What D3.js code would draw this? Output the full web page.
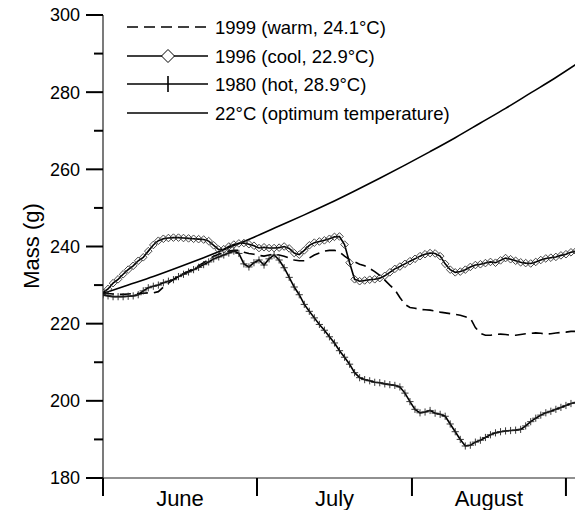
<!DOCTYPE html>
<html>
<head>
<meta charset="utf-8">
<script src="https://cdn.jsdelivr.net/npm/d3@7"></script>
<style>
  body { margin: 0; background: #fff; }
  svg { display: block; font-family: "Liberation Sans", Arial, sans-serif; }
</style>
</head>
<body>
<svg id="chart" width="575" height="510"></svg>
<script>
// values, one per day starting 1 June
const cool1996 = [
  228, 229, 230.5, 231.5, 232.8, 234, 235, 236.3, 237.2, 238.8,
  240.4, 241.5, 242, 242.2, 242.3, 242.3, 242.2, 242.1, 242, 241.9,
  241.8, 241.4, 240.3, 239.2, 239.3, 240, 240.5, 240.8, 240.9, 240.6,
  240.2, 239.6, 239.8, 239.6, 239.6, 239.7, 240, 239.5, 238.3, 237.9,
  239, 240.3, 241, 241.3, 241.6, 242, 242.5, 242.6, 240.5, 235.8,
  231.5, 231, 231.2, 231.4, 231.5, 231.8, 232.4, 233.3, 234.2, 234.8,
  235.5, 236.2, 236.8, 237.5, 238, 238.3, 238.2, 237.5, 235.5, 234,
  233.3, 233.5, 234, 234.7, 235.2, 235.4, 235.7, 236, 235.8, 236.4,
  237, 236.7, 236.3, 235.9, 235.7, 235.6, 236, 236.5, 236.9, 237.1,
  237.3, 237.7, 238, 238.5, 238.8
];
const hot1980 = [
  227.5, 227.2, 227, 227, 227, 227.1, 227.2, 227.5, 228.5, 229.3,
  229.7, 230, 230.6, 231, 231.4, 232.2, 232.8, 233.4, 234, 234.6,
  235.3, 236, 236.8, 237.3, 237.8, 238.3, 238.8, 238.2, 235.5, 234.7,
  235.8, 236.5, 235.2, 236.8, 237.8, 236.5, 234.5, 232, 229.5, 227.5,
  225, 223.2, 221.5, 219.8, 218.3, 216.6, 215, 213, 211.3, 209.5,
  207.3, 206, 205.5, 205.2, 204.8, 204.7, 204.4, 204.2, 204, 203.6,
  202, 199.8, 197.8, 196.9, 197.1, 197.5, 196.8, 196.5, 196, 194,
  192, 190, 188.3, 188.5, 189.3, 189.8, 190.5, 191.2, 191.7, 192,
  192.2, 192.3, 192.4, 192.6, 193.5, 194.6, 195.5, 196.3, 196.9, 197.3,
  197.8, 198.3, 198.8, 199.3, 199.6
];
const warm1999 = [
  228, 227.8, 227.7, 227.6, 227.6, 227.7, 227.8, 227.8, 227.9, 228,
  228, 228.3, 229.5, 230.5, 231.5, 232.3, 233, 233.6, 234.3, 235,
  235.8, 236.6, 237.5, 238, 238.5, 238.8, 239, 239, 238.5, 238.2,
  238, 237.7, 237.5, 237.8, 238, 237.8, 237.5, 237, 236.5, 236.3,
  236.3, 237, 237.8, 238.3, 238.8, 239, 239, 238.6, 237.5, 236.6,
  236, 235.4, 235, 234.3, 233.5, 232.5, 231.3, 230, 228.8, 226.8,
  225, 224.2, 224, 223.7, 223.6, 223.5, 223.3, 223, 222.8, 222.6,
  222.4, 222.2, 221.8, 221.4, 219, 217.5, 217, 217, 217.2, 217.3,
  217.2, 217, 217, 217.2, 217.4, 217.5, 217.6, 217.5, 217.3, 217.4,
  217.6, 217.7, 217.8, 218, 218
];
// 22°C optimum curve
const optDays = [0, 5, 10, 15, 20, 25, 30, 35, 40, 45, 50, 55, 60, 65, 70, 75, 80, 85, 90, 94];
const optMass = [227.8, 230, 232.2, 234.6, 237.1, 239.7, 242.4, 245.3, 248.2, 251.2,
                 254.4, 257.7, 261.1, 264.6, 268.2, 272, 275.8, 279.8, 283.8, 287.2];

const months = ['June', 'July', 'August'];
const monthEdges = [0, 30.6, 61.4, 92];
const yTicks = [180, 200, 220, 240, 260, 280, 300];
const yMinor = [190, 210, 230, 250, 270, 290];

const legendLabels = [
  '1999 (warm, 24.1°C)',
  '1996 (cool, 22.9°C)',
  '1980 (hot, 28.9°C)',
  '22°C (optimum temperature)'
];

const svg = d3.select('#chart');
const m = { left: 103, right: 575, top: 15, bottom: 478 };

const x = d3.scaleLinear().domain([0, 93.8]).range([m.left, m.right]);
const y = d3.scaleLinear().domain([180, 300]).range([m.bottom, m.top]);

svg.append('defs').append('clipPath').attr('id', 'clip')
  .append('rect').attr('x', m.left).attr('y', m.top - 5)
  .attr('width', m.right - m.left).attr('height', m.bottom - m.top + 5);

// y axis
const yAxis = svg.append('g');
yAxis.append('line')
  .attr('x1', m.left).attr('x2', m.left)
  .attr('y1', m.top).attr('y2', 496)
  .attr('stroke', '#222').attr('stroke-width', 1.2);
yAxis.selectAll('.major').data(yTicks).join('line')
  .attr('x1', 86).attr('x2', m.left)
  .attr('y1', d => y(d)).attr('y2', d => y(d))
  .attr('stroke', '#000').attr('stroke-width', 2);
yAxis.selectAll('.minor').data(yMinor).join('line')
  .attr('x1', 94).attr('x2', m.left)
  .attr('y1', d => y(d)).attr('y2', d => y(d))
  .attr('stroke', '#000').attr('stroke-width', 2);
yAxis.selectAll('text').data(yTicks).join('text')
  .attr('x', 80).attr('y', d => y(d))
  .attr('dy', '0.36em')
  .attr('text-anchor', 'end')
  .attr('font-size', 18)
  .text(d => d);

svg.append('text')
  .attr('transform', `translate(39, 246) rotate(-90)`)
  .attr('text-anchor', 'middle')
  .attr('font-size', 22)
  .text('Mass (g)');

// x axis with month ticks
const xAxis = svg.append('g');
xAxis.append('line')
  .attr('x1', m.left).attr('x2', m.right)
  .attr('y1', m.bottom).attr('y2', m.bottom)
  .attr('stroke', '#222').attr('stroke-width', 1.2);
xAxis.selectAll('.tick').data(monthEdges).join('line')
  .attr('x1', d => x(d)).attr('x2', d => x(d))
  .attr('y1', m.bottom).attr('y2', 496)
  .attr('stroke', '#000').attr('stroke-width', 2);
xAxis.selectAll('text').data(months).join('text')
  .attr('x', (d, i) => (x(monthEdges[i]) + x(monthEdges[i + 1])) / 2)
  .attr('y', 506)
  .attr('text-anchor', 'middle')
  .attr('font-size', 22)
  .text(d => d);

// lines
const plot = svg.append('g').attr('clip-path', 'url(#clip)');
const line = d3.line().x((d, i) => x(i)).y(d => y(d));

const diamond = r => `M0,${-r}L${r},0L0,${r}L${-r},0Z`;
const cross = r => `M${-r},0H${r}M0,${-r}V${r}`;

plot.append('path').datum(optMass)
  .attr('fill', 'none').attr('stroke', '#000').attr('stroke-width', 1.6)
  .attr('d', d3.line().x((d, i) => x(optDays[i])).y(d => y(d)).curve(d3.curveMonotoneX));

plot.append('path').datum(warm1999)
  .attr('fill', 'none').attr('stroke', '#000').attr('stroke-width', 1.6)
  .attr('stroke-dasharray', '11,6')
  .attr('d', line);

plot.append('path').datum(cool1996)
  .attr('fill', 'none').attr('stroke', '#000').attr('stroke-width', 1.6)
  .attr('d', line);
plot.selectAll('.dia').data(cool1996).join('path')
  .attr('transform', (d, i) => `translate(${x(i)},${y(d)})`)
  .attr('d', diamond(3.8))
  .attr('fill', 'none').attr('stroke', '#333').attr('stroke-width', 0.9);

plot.append('path').datum(hot1980)
  .attr('fill', 'none').attr('stroke', '#000').attr('stroke-width', 1.6)
  .attr('d', line);
plot.selectAll('.crs').data(hot1980).join('path')
  .attr('transform', (d, i) => `translate(${x(i)},${y(d)})`)
  .attr('d', cross(3.6))
  .attr('fill', 'none').attr('stroke', '#222').attr('stroke-width', 0.9);

// legend
const legendY = [27, 56, 84, 113];
const lg = svg.append('g');
legendLabels.forEach((label, i) => {
  const row = lg.append('g').attr('transform', `translate(0, ${legendY[i]})`);
  row.append('line')
    .attr('x1', 127).attr('x2', 208)
    .attr('stroke', '#000').attr('stroke-width', 1.6)
    .attr('stroke-dasharray', i === 0 ? '11,6' : null);
  if (i === 1) {
    row.append('path').attr('transform', 'translate(168,0)')
      .attr('d', diamond(6.5))
      .attr('fill', '#fff').attr('stroke', '#000').attr('stroke-width', 1);
  }
  if (i === 2) {
    row.append('path').attr('transform', 'translate(168,0)')
      .attr('d', 'M0,-8V8')
      .attr('stroke', '#000').attr('stroke-width', 1.6);
  }
  row.append('text')
    .attr('x', 215).attr('dy', '0.36em')
    .attr('font-size', 18.5)
    .text(label);
});
</script>
</body>
</html>
